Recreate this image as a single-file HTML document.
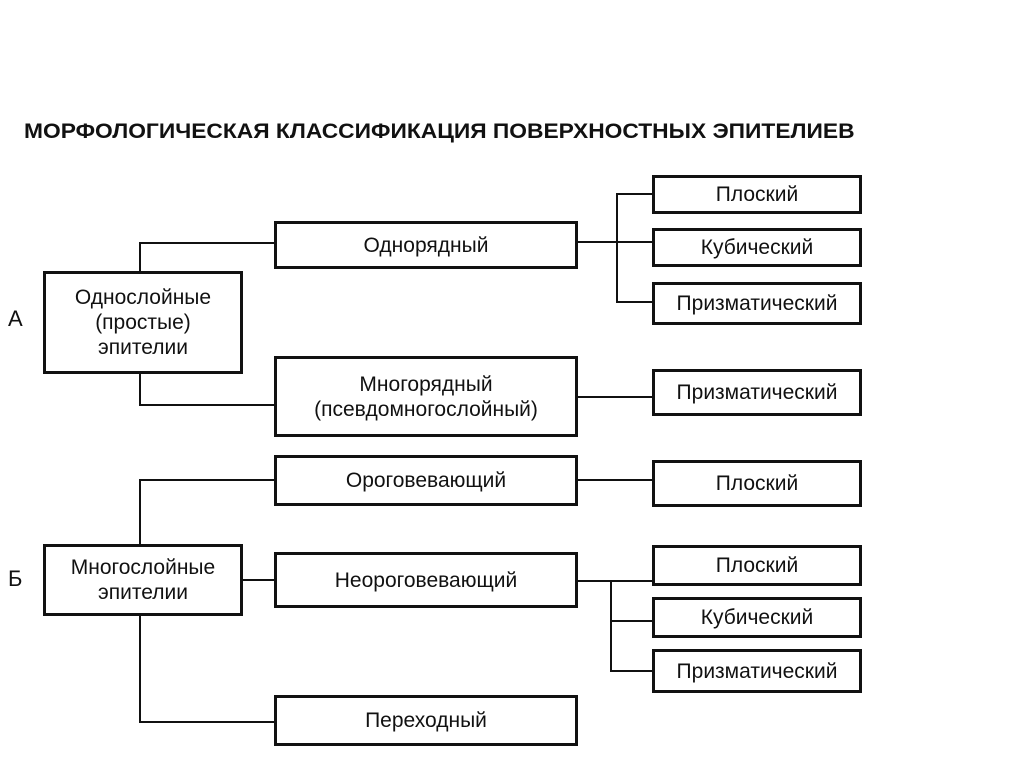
<!DOCTYPE html>
<html><head><meta charset="utf-8"><style>
body{margin:0;width:1024px;height:767px;background:#fff;position:relative;overflow:hidden;font-family:"Liberation Sans",sans-serif;color:#111}
.b{position:absolute;border:3px solid #111;box-sizing:border-box;display:flex;align-items:center;justify-content:center;text-align:center;font-size:21px;line-height:25px;background:#fff}
.l{position:absolute;background:#111}
.t{position:absolute;font-size:22px}
</style></head><body>
<div class="t" style="left:24px;top:120px;font-weight:bold;font-size:21px;transform:scaleX(1.085);transform-origin:0 0;white-space:nowrap">МОРФОЛОГИЧЕСКАЯ КЛАССИФИКАЦИЯ ПОВЕРХНОСТНЫХ ЭПИТЕЛИЕВ</div>
<div class="t" style="left:8px;top:306px">А</div>
<div class="t" style="left:8px;top:566px">Б</div>

<div class="l" style="left:139px;top:242px;width:2px;height:32px"></div>
<div class="l" style="left:139px;top:242px;width:138px;height:2px"></div>
<div class="l" style="left:139px;top:372px;width:2px;height:34px"></div>
<div class="l" style="left:139px;top:404px;width:138px;height:2px"></div>
<div class="l" style="left:575px;top:241px;width:80px;height:2px"></div>
<div class="l" style="left:616px;top:193px;width:2px;height:110px"></div>
<div class="l" style="left:616px;top:193px;width:39px;height:2px"></div>
<div class="l" style="left:616px;top:301px;width:39px;height:2px"></div>
<div class="l" style="left:575px;top:396px;width:80px;height:2px"></div>

<div class="l" style="left:139px;top:479px;width:2px;height:68px"></div>
<div class="l" style="left:139px;top:479px;width:138px;height:2px"></div>
<div class="l" style="left:241px;top:579px;width:36px;height:2px"></div>
<div class="l" style="left:139px;top:613px;width:2px;height:110px"></div>
<div class="l" style="left:139px;top:721px;width:138px;height:2px"></div>
<div class="l" style="left:575px;top:479px;width:80px;height:2px"></div>
<div class="l" style="left:575px;top:580px;width:80px;height:2px"></div>
<div class="l" style="left:610px;top:580px;width:2px;height:92px"></div>
<div class="l" style="left:610px;top:620px;width:45px;height:2px"></div>
<div class="l" style="left:610px;top:670px;width:45px;height:2px"></div>

<div class="b" style="left:43px;top:271px;width:200px;height:103px">Однослойные<br>(простые)<br>эпителии</div>
<div class="b" style="left:274px;top:221px;width:304px;height:48px">Однорядный</div>
<div class="b" style="left:274px;top:356px;width:304px;height:81px">Многорядный<br>(псевдомногослойный)</div>
<div class="b" style="left:652px;top:175px;width:210px;height:39px">Плоский</div>
<div class="b" style="left:652px;top:228px;width:210px;height:39px">Кубический</div>
<div class="b" style="left:652px;top:282px;width:210px;height:43px">Призматический</div>
<div class="b" style="left:652px;top:369px;width:210px;height:47px">Призматический</div>

<div class="b" style="left:43px;top:544px;width:200px;height:72px">Многослойные<br>эпителии</div>
<div class="b" style="left:274px;top:455px;width:304px;height:51px">Ороговевающий</div>
<div class="b" style="left:274px;top:552px;width:304px;height:56px">Неороговевающий</div>
<div class="b" style="left:274px;top:695px;width:304px;height:51px">Переходный</div>
<div class="b" style="left:652px;top:460px;width:210px;height:47px">Плоский</div>
<div class="b" style="left:652px;top:545px;width:210px;height:41px">Плоский</div>
<div class="b" style="left:652px;top:597px;width:210px;height:41px">Кубический</div>
<div class="b" style="left:652px;top:649px;width:210px;height:44px">Призматический</div>
</body></html>
